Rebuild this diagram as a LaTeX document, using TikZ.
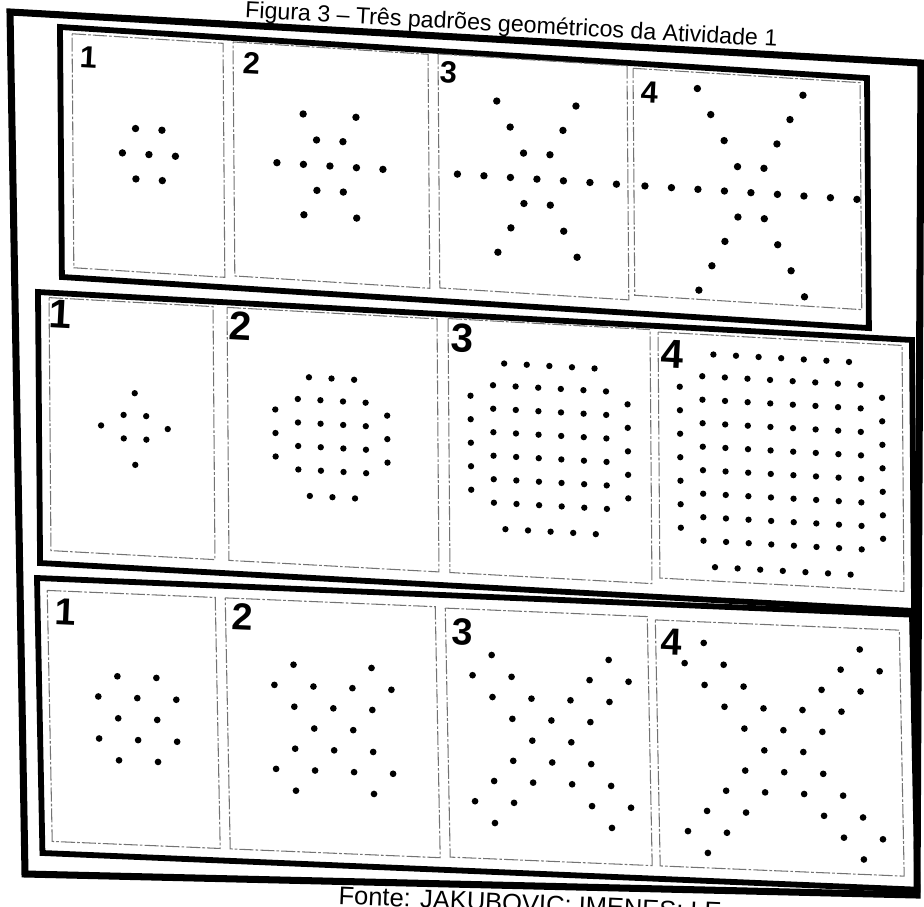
\documentclass[tikz,border=0pt]{standalone}
\usepackage{fontspec}
\setmainfont{Liberation Sans}

\begin{document}
\begin{tikzpicture}[x=0.02cm, y=-0.02cm,
  % thick frames: whole figure and each row
  outerframe/.style={draw, line width=4pt, line join=miter},
  rowframe/.style={draw, line width=3.3pt, line join=miter},
  % thin broken border round each panel
  panelbox/.style={draw=black!55, line width=0.6pt,
                   dash pattern=on 8pt off 1.2pt on 1.5pt off 1.2pt},
  % panel numbers
  numA/.style={anchor=north west, inner sep=0pt, rotate=-3,
               font=\fontsize{17.5}{18}\selectfont\bfseries},
  numB/.style={anchor=north west, inner sep=0pt, rotate=-3,
               font=\fontsize{23}{24}\selectfont\bfseries},
  numC/.style={anchor=north west, inner sep=0pt, rotate=-2.5,
               font=\fontsize{21.5}{22}\selectfont\bfseries},
  caption/.style={inner sep=0pt, font=\fontsize{13.2}{15}\selectfont},
  % the page is slanted: each row gets its own origin and axes
  rowA/.style={shift={(60,27)}, x={(0.02cm,-0.00126cm)}, y={(0.00016cm,-0.02cm)}},
  rowB/.style={shift={(38,292)}, x={(0.02cm,-0.0011cm)}, y={(0.00015cm,-0.02cm)}},
  rowC/.style={shift={(37,578)}, x={(0.02cm,-0.00084cm)}, y={(0.0004cm,-0.02cm)}}
]
  \useasboundingbox (0,0) rectangle (924,907);
  \clip (0,0) rectangle (924,907);

  % Title (cut by the top edge)
  \node[caption, anchor=base, rotate=-3.15] (title) at (511,32)
    {Figura 3 – Três padrões geométricos da Atividade 1};

  % Outer frame
  \draw[outerframe] (10,12) -- (921,63) -- (917,895) -- (25,874) -- cycle;

  % Row 1: stars with six arms
  \begin{scope}[rowA]
    \draw[rowframe] (0,0) -- (807,0) -- (807,250) -- (0,250) -- cycle;
    \foreach \ua/\ub/\va/\vb in {12/163/6/240, 173/368/4/238, 378/567/3/237, 573/800/5/232}
      \draw[panelbox] (\ua,\va) -- (\ub,\va) -- (\ub,\vb) -- (\ua,\vb) -- cycle;
    \node[numA] (a1) at (20,18) {1};
    \node[numA] (a2) at (183,13) {2};
    \node[numA] (a3) at (380,10) {3};
    \node[numA] (a4) at (581,17) {4};
    \foreach \n/\cu in {1/88, 2/269, 3/476, 4/690} {
      \fill (\cu,122) circle[radius=2.1pt];
      \foreach \k in {1,...,\n}
        \foreach \du/\dv in {26.5/0, -26.5/0, 13.2/25.2, -13.2/25.2, 13.2/-25.2, -13.2/-25.2}
          \fill ({\cu+\k*(\du)},{122+\k*(\dv)}) circle[radius=2.1pt];
    }
  \end{scope}

  % Row 2: square grids with a row of dots on each side
  \begin{scope}[rowB]
    \draw[rowframe] (0,0) -- (874,0) -- (874,271) -- (0,271) -- cycle;
    \foreach \ua/\ub/\va/\vb in {11/175/5/258, 189/399/5/258, 410/612/4/258, 620/864/6/252}
      \draw[panelbox] (\ua,\va) -- (\ub,\va) -- (\ub,\vb) -- (\ua,\vb) -- cycle;
    \node[numB] (b1) at (12,7) {1};
    \node[numB] (b2) at (192,8) {2};
    \node[numB] (b3) at (414,8) {3};
    \node[numB] (b4) at (624,13) {4};
    \foreach \n/\cu/\cv in {1/96/130, 2/293/128, 3/511/127, 4/743/130} {
      \pgfmathtruncatemacro{\m}{2*\n}
      \pgfmathtruncatemacro{\mm}{2*\n-1}
      \foreach \i in {1,...,\m}
        \foreach \j in {1,...,\m}
          \fill ({\cu+(\i-\n-0.5)*22.6},{\cv+(\j-\n-0.5)*23.5}) circle[radius=1.8pt];
      \foreach \t in {1,...,\mm} {
        \fill ({\cu+(\t-\n)*22.6},{\cv-(\n+0.45)*23.5}) circle[radius=1.8pt];
        \fill ({\cu+(\t-\n)*22.6},{\cv+(\n+0.6)*23.5}) circle[radius=1.8pt];
        \fill ({\cu-(\n+0.5)*22.6},{\cv+(\t-\n)*23.5}) circle[radius=1.8pt];
        \fill ({\cu+(\n+0.45)*22.6},{\cv+(\t-\n)*23.5}) circle[radius=1.8pt];
      }
    }
  \end{scope}

  % Row 3: crosses made of double lines
  \begin{scope}[rowC]
    \draw[rowframe] (0,0) -- (875,0) -- (875,275) -- (0,275) -- cycle;
    \foreach \ua/\ub/\va/\vb in {10/178/12/263, 188/398/12/263, 408/610/13/262, 618/862/16/262}
      \draw[panelbox] (\ua,\va) -- (\ub,\va) -- (\ub,\vb) -- (\ua,\vb) -- cycle;
    \node[numC] (c1) at (18,19) {1};
    \node[numC] (c2) at (195,17) {2};
    \node[numC] (c3) at (415,22) {3};
    \node[numC] (c4) at (624,24) {4};
    \foreach \n/\cu/\cv in {1/98/137, 2/294/139, 3/512/142, 4/744/142} {
      \foreach \a in {-0.5,0.5}
        \foreach \b in {-0.5,0.5}
          \fill ({\cu+19.5*((\a)+(\b))},{\cv+21*((\a)-(\b))}) circle[radius=1.9pt];
      \foreach \k in {1,...,\n}
        \foreach \s in {-1,1}
          \foreach \b in {-0.5,0.5} {
            \fill ({\cu+19.5*((\s)*(\k+0.5)+(\b))},{\cv+21*((\s)*(\k+0.5)-(\b))}) circle[radius=1.9pt];
            \fill ({\cu+19.5*((\b)+(\s)*(\k+0.5))},{\cv+21*((\b)-(\s)*(\k+0.5))}) circle[radius=1.9pt];
          }
    }
  \end{scope}

  % Source line (cut by the bottom edge)
  \node[caption, anchor=base west, rotate=-2.5, font=\fontsize{14.5}{16}\selectfont] (source) at (338,904)
    {Fonte: JAKUBOVIC; IMENES; LE};
\end{tikzpicture}
\end{document}
